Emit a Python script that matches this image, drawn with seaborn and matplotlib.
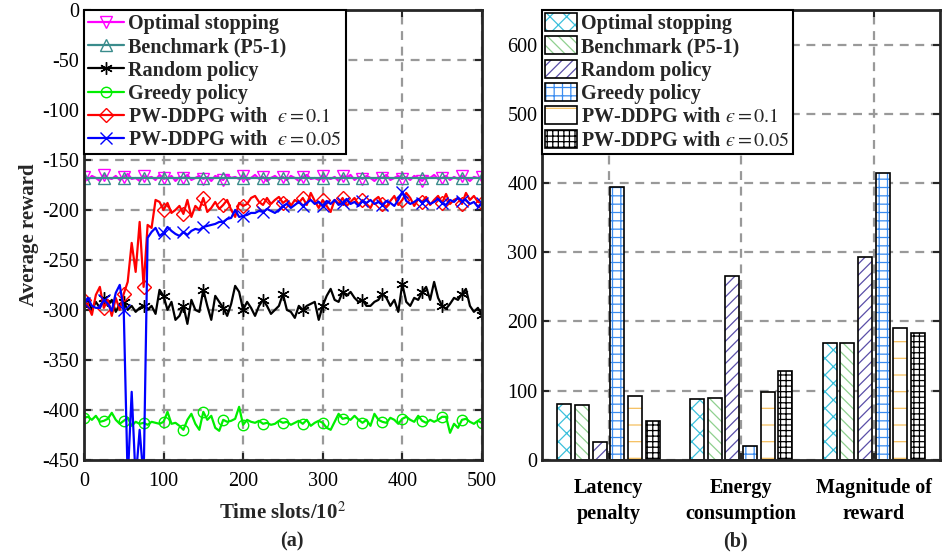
import numpy as np
import pandas as pd
import seaborn as sns
import matplotlib
matplotlib.use("Agg")
import matplotlib.pyplot as plt
from matplotlib.patches import Patch
from matplotlib.legend_handler import HandlerTuple

# ---------------- data: (a) average reward vs time slots ----------------
time_slots = np.arange(0, 501, 5)

optimal_stop = [-167, -170, -166, -168, -171, -165, -168, -169, -166, -170,
                -167, -164, -169, -168, -171, -166, -168, -167, -170, -165,
                -168, -169, -166, -171, -167, -168, -165, -170, -168, -166,
                -169, -167, -171, -166, -168, -170, -165, -168, -167, -169,
                -166, -170, -168, -165, -169, -167, -171, -168, -166, -169,
                -167, -170, -166, -168, -171, -167, -165, -169, -168, -170,
                -166, -168, -169, -167, -171, -166, -168, -165, -170, -167,
                -169, -166, -168, -171, -167, -168, -165, -170, -168, -166,
                -169, -167, -170, -166, -168, -171, -167, -168, -165, -169,
                -168, -166, -170, -167, -169, -166, -168, -171, -167, -168,
                -167]
benchmark = [-168] * 101
random_policy = [-295, -290, -300, -292, -298, -288, -296, -290, -302, -294,
                 -292, -300, -296, -302, -298, -296, -300, -296, -304, -280,
                 -286, -300, -292, -310, -306, -296, -314, -290, -300, -302,
                 -280, -296, -310, -286, -292, -298, -306, -294, -276, -282,
                 -300, -292, -298, -306, -296, -290, -296, -304, -300, -296,
                 -284, -300, -302, -308, -296, -300, -296, -294, -292, -310,
                 -296, -286, -279, -290, -292, -282, -286, -282, -288, -292,
                 -290, -296, -296, -292, -290, -284, -288, -296, -290, -302,
                 -274, -292, -296, -288, -290, -282, -277, -290, -272, -288,
                 -296, -299, -294, -288, -290, -284, -279, -296, -302, -298,
                 -305]
greedy_policy = [-408, -407, -410, -406, -412, -411, -409, -403, -410, -414,
                 -411, -408, -416, -412, -414, -413, -415, -412, -413, -414,
                 -412, -402, -414, -413, -416, -420, -410, -404, -414, -420,
                 -402, -410, -406, -418, -421, -410, -412, -411, -409, -397,
                 -415, -410, -412, -413, -411, -414, -413, -415, -414, -411,
                 -413, -412, -415, -413, -411, -414, -410, -416, -413, -411,
                 -413, -418, -420, -412, -404, -409, -408, -410, -406, -410,
                 -413, -410, -416, -404, -410, -412, -413, -408, -410, -414,
                 -409, -407, -410, -412, -406, -411, -413, -410, -412, -410,
                 -407, -407, -423, -414, -418, -410, -409, -412, -414, -411,
                 -413]
pw_ddpg_01 = [-290, -296, -305, -285, -277, -298, -290, -306, -288, -300,
              -284, -272, -233, -262, -212, -277, -215, -218, -190, -192,
              -200, -193, -203, -200, -196, -204, -190, -207, -196, -200,
              -188, -202, -198, -192, -199, -195, -190, -200, -207, -193,
              -196, -194, -188, -186, -192, -195, -188, -194, -190, -187,
              -193, -190, -196, -190, -193, -188, -195, -183, -191, -198,
              -190, -196, -202, -190, -194, -188, -196, -192, -188, -195,
              -190, -194, -198, -190, -187, -194, -197, -191, -186, -195,
              -190, -183, -188, -196, -189, -192, -187, -195, -190, -186,
              -193, -184, -194, -190, -188, -194, -183, -190, -186, -192,
              -193]
pw_ddpg_005 = [-293, -288, -296, -298, -298, -290, -294, -301, -283, -275,
               -300, -470, -382, -470, -420, -470, -228, -222, -218, -226,
               -223, -217, -221, -224, -226, -222, -225, -221, -219, -220,
               -217, -216, -215, -214, -212, -212, -209, -208, -200, -207,
               -206, -205, -203, -203, -201, -202, -199, -201, -203, -200,
               -196, -194, -198, -195, -192, -196, -193, -190, -194, -192,
               -196, -191, -194, -190, -195, -193, -189, -194, -192, -196,
               -191, -193, -190, -194, -192, -195, -191, -193, -196, -190,
               -182, -191, -194, -192, -189, -193, -190, -194, -192, -189,
               -193, -195, -190, -192, -188, -191, -190, -194, -192, -197,
               -193]

# ---------------- data: (b) bars ----------------
metrics = ["Latency\npenalty", "Energy\nconsumption", "Magnitude of\nreward"]
methods = ["Optimal stopping", "Benchmark (P5-1)", "Random policy", "Greedy policy",
           "PW-DDPG with $\u03f5{=}0.1$", "PW-DDPG with $\u03f5{=}0.05$"]
bar_optimal = [80, 88, 169]
bar_benchmark = [79, 89, 169]
bar_random = [26, 266, 293]
bar_greedy = [394, 20, 414]
bar_pw01 = [92, 98, 190]
bar_pw005 = [56, 128, 183]

sns.set_theme(style="white")
plt.rcParams["font.family"] = ["Liberation Serif", "DejaVu Serif"]
plt.rcParams["mathtext.fontset"] = "stix"
plt.rcParams["hatch.linewidth"] = 0.9
plt.rcParams["axes.unicode_minus"] = False

fig = plt.figure(figsize=(9.43, 5.58), dpi=100)
ax1 = fig.add_axes([0.089, 0.176, 0.422, 0.806])
ax2 = fig.add_axes([0.575, 0.176, 0.422, 0.806])

grid_kw = dict(color="#999999", linestyle=(0, (4, 3)), linewidth=1.6)

# ---- panel (a)
asterisk = (6, 2, 0)
series = [
    (optimal_stop, "#ff00ff", "v", 8, methods[0]),
    (benchmark, "#3a8c8c", "^", 8, methods[1]),
    (random_policy, "black", asterisk, 9, methods[2]),
    (greedy_policy, "#00ee00", "o", 7.5, methods[3]),
    (pw_ddpg_01, "#ff0000", "D", 7.5, "PW-DDPG with  $\u03f5{=}0.1$"),
    (pw_ddpg_005, "#0000ff", "x", 8, "PW-DDPG with  $\u03f5{=}0.05$"),
]
for vals, col, mk, ms, lab in series:
    sns.lineplot(x=time_slots, y=vals, ax=ax1, color=col, marker=mk, markevery=5,
                 markersize=ms, markerfacecolor="none",
                 markeredgecolor=col, markeredgewidth=1.0, linewidth=1.6, label=lab)

ax1.set_xlim(0, 500)
ax1.set_ylim(-450, 0)
ax1.set_xticks(range(0, 501, 100))
ax1.set_yticks(range(-450, 1, 50))
ax1.grid(True, **grid_kw)
ax1.set_axisbelow(True)
ax1.set_xlabel(r"Time slots/10$^{2}$", fontsize=15, fontweight="bold", labelpad=8)
ax1.set_ylabel("Average reward", fontsize=15, fontweight="bold", labelpad=2)
leg1 = ax1.legend(loc="upper left", bbox_to_anchor=(0, 1), borderaxespad=0,
                  prop={"weight": "bold", "size": 14.5}, frameon=True, fancybox=False,
                  edgecolor="black", handlelength=1.8, handletextpad=0.2,
                  labelspacing=0.16, borderpad=0.2)
leg1.get_frame().set_linewidth(1.5)
leg1.get_frame().set_alpha(1)

# ---- panel (b)
hatch_colors = ["#3cc0dc", "#8fd08f", "#5a4ea8", "#3a8cf0", "#f5c060", "black"]
hatches = ["xx", "\\\\\\", "///", "++", "-", "+++"]
bar_values = [bar_optimal, bar_benchmark, bar_random, bar_greedy, bar_pw01, bar_pw005]
rows = []
for m, vals in zip(methods, bar_values):
    for met, v in zip(metrics, vals):
        rows.append({"metric": met, "method": m, "value": v})
df = pd.DataFrame(rows)

sns.barplot(data=df, x="metric", y="value", hue="method", order=metrics,
            hue_order=methods, palette=hatch_colors, width=0.8, gap=0.2,
            errorbar=None, legend=False, ax=ax2)
for cont, col, h in zip(ax2.containers, hatch_colors, hatches):
    for p in cont:
        p.set_facecolor("white")
        p.set_edgecolor(col)
        p.set_hatch(h)
        p.set_linewidth(0)
sns.barplot(data=df, x="metric", y="value", hue="method", order=metrics,
            hue_order=methods, palette=["black"] * 6, width=0.8, gap=0.2,
            errorbar=None, legend=False, fill=False, linewidth=1.2, ax=ax2)

ax2.set_xlim(-0.5, 2.5)
ax2.set_ylim(0, 650)
ax2.set_yticks(range(0, 601, 100))
ax2.grid(True, **grid_kw)
ax2.set_axisbelow(True)
ax2.set_xlabel("")
ax2.set_ylabel("")
for lbl in ax2.get_xticklabels():
    lbl.set_fontweight("bold")
    lbl.set_fontsize(15)
    lbl.set_linespacing(1.4)

handles = [(Patch(facecolor="white", edgecolor=c, hatch=h, linewidth=0),
            Patch(facecolor="none", edgecolor="black", linewidth=1.2))
           for c, h in zip(hatch_colors, hatches)]
leg2 = ax2.legend(handles, methods, handler_map={tuple: HandlerTuple(ndivide=1)},
                  loc="upper left", bbox_to_anchor=(0, 1), borderaxespad=0,
                  prop={"weight": "bold", "size": 14.5}, frameon=True, fancybox=False,
                  edgecolor="black", handlelength=1.6, handleheight=1.0,
                  handletextpad=0.2, labelspacing=0.12, borderpad=0.15)
leg2.get_frame().set_linewidth(1.5)
leg2.get_frame().set_alpha(1)

for ax in (ax1, ax2):
    for s in ax.spines.values():
        s.set_color("#262626")
        s.set_linewidth(2)
    ax.tick_params(direction="in", length=5, width=1.5, top=True, right=True,
                   bottom=True, left=True, labelsize=14.5, colors="#262626")
    for lbl in ax.get_xticklabels() + ax.get_yticklabels():
        lbl.set_color("black")
ax1.tick_params(axis="x", pad=9)
ax2.tick_params(axis="x", pad=13)

fig.text(0.31, 0.02, "(a)", ha="center", fontsize=14.5, fontweight="bold")
fig.text(0.78, 0.02, "(b)", ha="center", fontsize=14.5, fontweight="bold")

fig.savefig("out.png", dpi=100)
